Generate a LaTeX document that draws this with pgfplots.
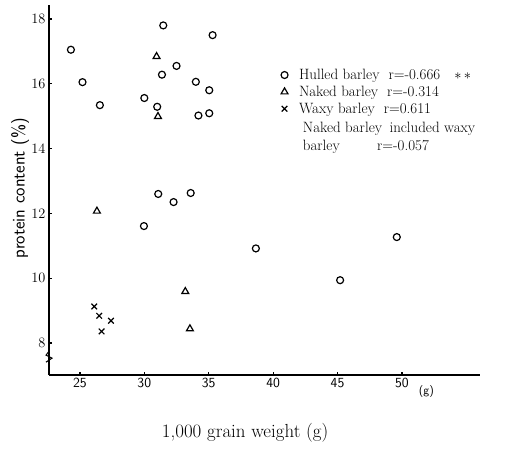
\documentclass[border=0pt]{standalone}
\usepackage{pgfplots}
\pgfplotsset{compat=1.18}

\begin{document}
\begin{tikzpicture}
\useasboundingbox (-49bp,-75bp) rectangle (457bp,375bp);
\begin{axis}[
  scale only axis,
  width=431bp, height=370bp,
  xmin=22.6, xmax=56.06,
  ymin=7.015, ymax=18.43,
  clip=false,
  axis lines=left,
  axis line style={line width=1.4pt, -},
  xtick={25,30,35,40,45,50},
  ytick={8,10,12,14,16,18},
  tick align=inside,
  major tick length=3pt,
  tick style={line width=1.2pt, black},
  yticklabel style={font=\fontsize{15}{17}\selectfont},
  xticklabel style={/pgf/number format/assume math mode=true,
    font=\sffamily\fontsize{14}{16}\selectfont},
  xlabel={1,000 grain weight (g)},
  xlabel style={at={(axis description cs:0.455,-0.157)}, anchor=center,
    font=\fontsize{19}{22}\selectfont},
  ylabel={protein content (\%)},
  ylabel style={at={(axis description cs:-0.067,0.505)}, anchor=center,
    font=\sffamily\fontsize{18}{20}\selectfont},
  legend style={at={(axis cs:40.6,16.52)}, anchor=north west, draw=none, fill=none,
    font=\fontsize{15}{16}\selectfont, row sep=1pt, column sep=9bp, inner sep=0pt,
    legend cell align=left},
]
\addplot[only marks, mark=o, mark size=3.5pt, line width=1.2pt] coordinates {
  (24.3,17.05) (25.2,16.05) (26.55,15.34) (30.0,15.56) (31.0,15.29)
  (31.47,17.8) (31.37,16.28) (32.5,16.55) (34.0,16.06) (35.04,15.8)
  (35.3,17.5) (34.2,15.02) (35.04,15.09) (31.08,12.6) (33.6,12.63)
  (32.27,12.35) (29.97,11.61) (38.66,10.92) (49.6,11.27) (45.2,9.94)
};
\addlegendentry{Hulled barley\hspace{9bp}r=-0.666\hspace{14bp}$\ast\,\ast$}
\addplot[only marks, mark=triangle, mark size=4pt, line width=1.2pt] coordinates {
  (30.95,16.84) (31.06,14.99) (26.32,12.07) (33.18,9.59) (33.54,8.44)
};
\addlegendentry{Naked barley\hspace{9bp}r=-0.314}
\addplot[only marks, mark=x, mark size=4pt, line width=1.2pt] coordinates {
  (26.11,9.13) (26.5,8.84) (27.41,8.69) (26.68,8.36)
};
\addlegendentry{Waxy barley\hspace{9bp}r=0.611}
\node[anchor=north west, align=left, inner sep=0pt,
  font=\fontsize{15}{18}\selectfont] at (axis cs:42.3,14.83)
  {Naked barley\enspace included waxy\\barley\qquad\enspace r=-0.057};
\node[anchor=north west, inner sep=0pt, font=\sffamily\fontsize{12}{14}\selectfont]
  at (axis cs:51.3,6.7) {(g)};
\draw[line width=1pt] (axis cs:22.6,7.75) -- ++(-3bp,-4bp) -- ++(6bp,-3bp) -- ++(-6bp,-4bp);
\end{axis}
\end{tikzpicture}
\end{document}
